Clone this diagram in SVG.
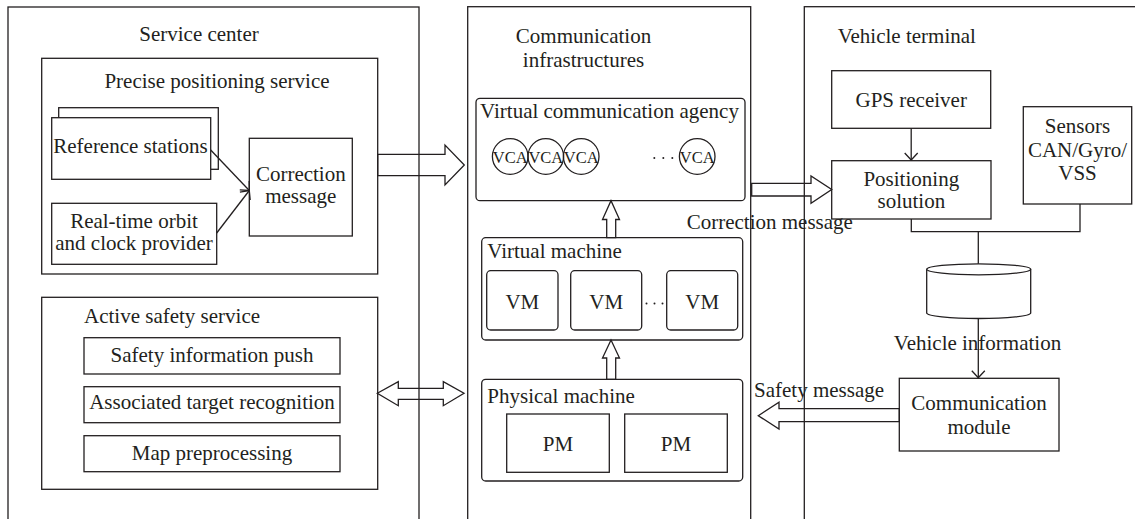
<svg xmlns="http://www.w3.org/2000/svg" width="1135" height="519" viewBox="0 0 1135 519">
<style>
.b{fill:none;stroke:#231f20;stroke-width:1.3}
.w{fill:#fff;stroke:#231f20;stroke-width:1.3}
.l{fill:none;stroke:#231f20;stroke-width:1.3}
text{font-family:"Liberation Serif","Times New Roman",serif;font-size:21px;fill:#231f20}
.c{text-anchor:middle}
.v{font-size:16.5px}
</style>
<defs>
<marker id="ah" markerUnits="userSpaceOnUse" viewBox="-8 -8 10 16" refX="0" refY="0" markerWidth="10" markerHeight="16" orient="auto">
<path d="M-7,-6.5 L0,0 L-7,6.5" fill="none" stroke="#231f20" stroke-width="1.3"/>
</marker>
</defs>
<rect width="1135" height="519" fill="#fff"/>

<g id="service-center">
<rect class="b" x="8" y="7" width="411" height="540"/>
<text class="c" x="199" y="41">Service center</text>
</g>
<g id="precise-positioning">
<rect class="b" x="41.7" y="58.3" width="336" height="215.7"/>
<text class="c" x="217" y="88">Precise positioning service</text>
</g>
<g id="reference-stations">
<rect class="w" x="58.7" y="107.7" width="159.6" height="61.6"/>
<rect class="w" x="51.7" y="117.7" width="159" height="61.6"/>
<text class="c" x="130.5" y="153">Reference stations</text>
</g>
<g id="realtime-orbit">
<rect class="b" x="51.7" y="203.3" width="165" height="61"/>
<text class="c" x="134" y="228">Real-time orbit</text>
<text class="c" x="134" y="250">and clock provider</text>
</g>
<g id="correction-message">
<rect class="b" x="249.3" y="138.3" width="103" height="97.7"/>
<text class="c" x="300.8" y="181">Correction</text>
<text class="c" x="300.8" y="203">message</text>
</g>
<g id="active-safety">
<rect class="b" x="41.7" y="297.3" width="336" height="192"/>
<text x="84" y="322.7">Active safety service</text>
</g>
<g id="safety-info-push">
<rect class="b" x="84" y="337.7" width="256" height="36.3"/>
<text class="c" x="212" y="361.5">Safety information push</text>
</g>
<g id="associated-target">
<rect class="b" x="84" y="386.7" width="256" height="36"/>
<text class="c" x="212" y="408.5">Associated target recognition</text>
</g>
<g id="map-preprocessing">
<rect class="b" x="84" y="435.7" width="256" height="36"/>
<text class="c" x="212" y="460">Map preprocessing</text>
</g>

<g id="communication-infrastructures">
<rect class="b" x="467.7" y="6.7" width="283" height="540"/>
<text class="c" x="583.5" y="43.3">Communication</text>
<text class="c" x="583.5" y="66.7">infrastructures</text>
</g>
<g id="vca">
<rect class="b" x="476" y="98.3" width="269" height="102.4" rx="4"/>
<text class="c" x="609.5" y="118.3">Virtual communication agency</text>
<circle class="b" cx="510.2" cy="156.5" r="17.8"/>
<circle class="b" cx="545.8" cy="156.5" r="17.8"/>
<circle class="b" cx="581.2" cy="156.5" r="17.8"/>
<circle class="b" cx="697.2" cy="156.5" r="17.8"/>
<text class="c v" x="510.2" y="162.5">VCA</text>
<text class="c v" x="545.8" y="162.5">VCA</text>
<text class="c v" x="581.2" y="162.5">VCA</text>
<text class="c v" x="697.2" y="162.5">VCA</text>
<circle cx="654.3" cy="158" r="1" fill="#231f20"/>
<circle cx="663.3" cy="158" r="1" fill="#231f20"/>
<circle cx="672.3" cy="158" r="1" fill="#231f20"/>
</g>
<g id="virtual-machine">
<rect class="b" x="481.7" y="237.7" width="261" height="102.3" rx="4"/>
<text x="487.3" y="258">Virtual machine</text>
<rect class="b" x="486.7" y="270.7" width="71.3" height="59.3" rx="4"/>
<rect class="b" x="570.7" y="270.7" width="71" height="59.3" rx="4"/>
<rect class="b" x="666.7" y="270.7" width="71" height="59.3" rx="4"/>
<text class="c" x="522.3" y="309.3">VM</text>
<text class="c" x="606.2" y="309.3">VM</text>
<text class="c" x="702.2" y="309.3">VM</text>
<circle cx="646.5" cy="303.5" r="1" fill="#231f20"/>
<circle cx="654.5" cy="303.5" r="1" fill="#231f20"/>
<circle cx="662.5" cy="303.5" r="1" fill="#231f20"/>
</g>
<g id="physical-machine">
<rect class="b" x="481.7" y="379.3" width="261" height="101.7" rx="4"/>
<text x="487.3" y="402.7">Physical machine</text>
<rect class="b" x="506.7" y="414" width="102.6" height="58.3"/>
<rect class="b" x="624.7" y="414" width="102.6" height="58.3"/>
<text class="c" x="558" y="450.7">PM</text>
<text class="c" x="676" y="450.7">PM</text>
</g>

<g id="vehicle-terminal">
<rect class="b" x="804.3" y="6.7" width="340" height="540"/>
<text x="837.7" y="43.3">Vehicle terminal</text>
</g>
<g id="gps-receiver">
<rect class="b" x="831.7" y="70.7" width="159" height="57.6"/>
<text class="c" x="911.2" y="106.7">GPS receiver</text>
</g>
<g id="positioning-solution">
<rect class="b" x="831.7" y="160.7" width="159.3" height="58.3"/>
<text class="c" x="911.3" y="185.7">Positioning</text>
<text class="c" x="911.3" y="207.5">solution</text>
</g>
<g id="sensors">
<rect class="b" x="1023.3" y="106.7" width="108.4" height="97.3"/>
<text class="c" x="1077.5" y="133.3">Sensors</text>
<text class="c" x="1077.5" y="156.7">CAN/Gyro/</text>
<text class="c" x="1077.5" y="180">VSS</text>
</g>
<g id="database">
<path class="w" d="M926.7,269.3 L926.7,313 A52,5.5 0 0 0 1030.7,313 L1030.7,269.3"/>
<ellipse class="w" cx="978.7" cy="269.3" rx="52" ry="5.5"/>
</g>
<g id="communication-module">
<rect class="b" x="899.3" y="378.3" width="159.7" height="72.7"/>
<text class="c" x="979" y="410">Communication</text>
<text class="c" x="979" y="434.3">module</text>
</g>

<g id="connectors">
<line class="l" x1="210.7" y1="150" x2="249.3" y2="190.5" marker-end="url(#ah)"/>
<line class="l" x1="216.7" y1="233" x2="249.3" y2="190.5" marker-end="url(#ah)"/>
<polygon class="b" points="377.7,154.3 445,154.3 445,145 464.3,165 445,185 445,175.7 377.7,175.7"/>
<polygon class="b" points="377.3,393.3 398.3,381.7 398.3,388.3 443.3,388.3 443.3,381.7 464,393.3 443.3,405.7 443.3,399.3 398.3,399.3 398.3,405.7"/>
<polygon class="b" points="606.7,237.7 606.7,219.5 602.5,219.5 611,200.7 619.5,219.5 615.7,219.5 615.7,237.7"/>
<polygon class="b" points="606.7,379.3 606.7,358 602.5,358 611,340 619.5,358 615.7,358 615.7,379.3"/>
<polygon class="b" points="751.7,183.3 811,183.3 811,176 831.7,189.5 811,203.3 811,196 751.7,196"/>
<polygon class="b" points="899.3,408.7 779,408.7 779,402.3 758.3,415.7 779,429 779,421.7 899.3,421.7"/>
<line class="l" x1="911.2" y1="128.3" x2="911.2" y2="160" marker-end="url(#ah)"/>
<polyline class="l" points="911.3,219 911.3,231.7 1080,231.7 1080,204"/>
<line class="l" x1="978.3" y1="231.7" x2="978.3" y2="263.8"/>
<line class="l" x1="978.3" y1="318.5" x2="978.3" y2="377.7" marker-end="url(#ah)"/>
<text x="686.7" y="229">Correction message</text>
<text class="c" x="977.5" y="350">Vehicle information</text>
<text x="754" y="396.7">Safety message</text>
</g>
</svg>
